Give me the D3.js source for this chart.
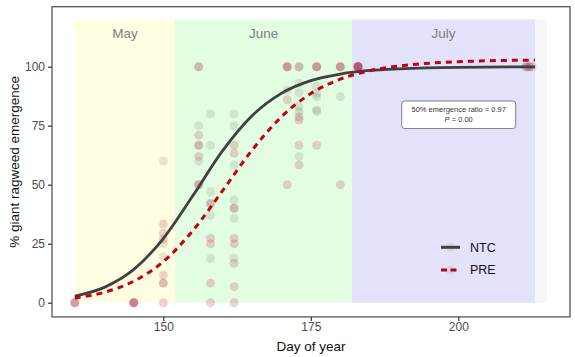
<!DOCTYPE html>
<html><head><meta charset="utf-8">
<script src="https://cdn.jsdelivr.net/npm/d3@7"></script>
<style>body{margin:0;background:#fff}svg{display:block;font-family:"Liberation Sans",Arial,sans-serif}</style>
</head><body><svg id="c" width="575" height="357"></svg>
<script>
// ---- data ----
const months = ["May", "June", "July"];
const monthStart = [135, 152, 182];
const monthEnd = [152, 182, 213];
const monthFill = ["#fffee3", "#e3fde3", "#e2e2fb"];
const xTicks = [150, 175, 200];
const yTicks = [0, 25, 50, 75, 100];

const ntcDay = [135,145,150,150,150,150,156,156,156,156,158,158,158,158,158,158,
  162,162,162,162,162,162,162,171,171,173,173,173,173,173,173,
  176,176,176,176,176,176,180,180,183,183,211.5,212];
const ntcPct = [0,0,60,25,19.5,8.3,100,75,66.7,60,80,66.7,47,42,37,18.8,
  80,75,58.3,43.5,40,35.8,18.8,100,90,100,93,89,83,81,62,
  100,91.7,88.7,87.3,81.7,81,100,87.3,100,100,100,100];

const preDay = [135,135,145,145,145,150,150,150,150,150,150,
  156,156,156,156,156,156,158,158,158,158,158,
  162,162,162,162,162,162,162,162,171,171,171,171,
  173,173,173,173,173,176,176,176,180,180,180,
  183,183,183,183,211.5,212,212.5];
const prePct = [0,0,0,0,0,33.3,29.4,27,11.7,8.3,0,
  100,71,66.7,62,50,50,42,27.3,25,8.3,0,
  66.7,63.3,40,27.3,25,16.7,6.8,0,100,100,86,50,
  100,78.8,77.4,66.7,58.3,100,100,66.7,100,100,50,
  100,100,100,100,100,100,100];

const fitDay = [135,140,145,150,155,160,165,170,175,180,185,190,200,213];
const ntcFit = [2.8,6.5,14.1,27.2,45.3,64.2,79.1,88.7,94.1,96.9,98.4,99.1,99.75,99.96];
const preFit = [2.0,4.4,9.1,17.4,30.5,47.3,64.5,78.7,88.6,94.7,98.3,100.3,102.1,102.8];

const seriesNames = ["NTC", "PRE"];
const annotation = ["50% emergence ratio = 0.97", "P = 0.00"];

// ---- layout ----
const svg = d3.select("#c");
const P = {l: 52, r: 570, t: 6.7, b: 316.9};
const x = d3.scaleLinear().domain([150, 200]).range([163.3, 458.3]);
const y = d3.scaleLinear().domain([0, 100]).range([302.7, 66.7]);

// background month rects
months.forEach((m, i) => {
  svg.append("rect").attr("x", x(monthStart[i])).attr("y", y(120))
    .attr("width", x(monthEnd[i]) - x(monthStart[i])).attr("height", y(0) - y(120))
    .attr("fill", monthFill[i]);
  svg.append("text").attr("x", x((monthStart[i] + monthEnd[i]) / 2)).attr("y", y(114))
    .attr("dy", "0.35em").attr("text-anchor", "middle").attr("font-size", 13.5)
    .attr("fill", "#7f7f7f").text(m);
});
svg.append("rect").attr("x", x(213)).attr("y", y(120)).attr("width", x(215) - x(213))
  .attr("height", y(0) - y(120)).attr("fill", "#f6f6f8");

// points
const pts = svg.append("g");
ntcDay.forEach((d, i) => pts.append("circle").attr("cx", x(d)).attr("cy", y(ntcPct[i]))
  .attr("r", 4.5).attr("fill", "#3d3d3d").attr("fill-opacity", 0.13));
preDay.forEach((d, i) => pts.append("circle").attr("cx", x(d)).attr("cy", y(prePct[i]))
  .attr("r", 4.5).attr("fill", "#b3112b").attr("fill-opacity", 0.19));

// fitted curves
const line = (vals) => d3.line().x((d, i) => x(fitDay[i])).y(d => y(d)).curve(d3.curveMonotoneX)(vals);
svg.append("path").attr("d", line(ntcFit)).attr("fill", "none").attr("stroke", "#404040").attr("stroke-width", 2.8);
svg.append("path").attr("d", line(preFit)).attr("fill", "none").attr("stroke", "#c4000f")
  .attr("stroke-width", 3).attr("stroke-dasharray", "6,5");

// panel border
svg.append("rect").attr("x", P.l).attr("y", P.t).attr("width", P.r - P.l).attr("height", P.b - P.t)
  .attr("fill", "none").attr("stroke", "#555").attr("stroke-width", 1.3);

// axes
const xa = svg.append("g").attr("transform", `translate(0,${P.b})`)
  .call(d3.axisBottom(x).tickValues(xTicks).tickSize(4).tickPadding(2).tickFormat(d3.format("d")));
const ya = svg.append("g").attr("transform", `translate(${P.l},0)`)
  .call(d3.axisLeft(y).tickValues(yTicks).tickSize(4).tickPadding(3).tickFormat(d3.format("d")));
[xa, ya].forEach(a => {
  a.select(".domain").remove();
  a.selectAll("line").attr("stroke", "#333").attr("stroke-width", 1.2);
  a.selectAll("text").attr("fill", "#4d4d4d").attr("font-size", 12).attr("font-family", "Liberation Sans, Arial, sans-serif");
});

svg.append("text").attr("x", (P.l + P.r) / 2).attr("y", 351).attr("text-anchor", "middle")
  .attr("font-size", 13.5).attr("fill", "#111").text("Day of year");
svg.append("text").attr("transform", `translate(14,${(P.t + P.b) / 2}) rotate(-90)`)
  .attr("text-anchor", "middle").attr("dy", "0.35em").attr("font-size", 13.5).attr("fill", "#111")
  .text("% giant ragweed emergence");

// annotation box
const bx = 401.7, by = 101, bw = 114, bh = 27.5;
svg.append("rect").attr("x", bx).attr("y", by).attr("width", bw).attr("height", bh)
  .attr("rx", 3).attr("fill", "#fff").attr("stroke", "#666").attr("stroke-width", 0.8);
svg.append("text").attr("x", bx + bw / 2).attr("y", by + 10.5).attr("text-anchor", "middle")
  .attr("font-size", 7.5).attr("fill", "#333").text(annotation[0]);
const t2 = svg.append("text").attr("x", bx + bw / 2).attr("y", by + 20.5).attr("text-anchor", "middle")
  .attr("font-size", 7.5).attr("fill", "#333");
t2.append("tspan").attr("font-style", "italic").text(annotation[1].slice(0, 1));
t2.append("tspan").text(annotation[1].slice(1));

// legend
const lg = svg.append("g");
seriesNames.forEach((s, i) => {
  const ly = 247.3 + i * 22.7;
  lg.append("circle").attr("cx", 450.5).attr("cy", ly).attr("r", 4.5)
    .attr("fill", i ? "#b3112b" : "#3d3d3d").attr("fill-opacity", 0.08);
  const ln = lg.append("line").attr("x1", 441).attr("x2", 460).attr("y1", ly).attr("y2", ly)
    .attr("stroke", i ? "#c4000f" : "#404040").attr("stroke-width", 3);
  if (i) ln.attr("stroke-dasharray", "6,3.5");
  lg.append("text").attr("x", 470).attr("y", ly).attr("dy", "0.35em").attr("font-size", 12.5)
    .attr("fill", "#111").text(s);
});
</script></body></html>
